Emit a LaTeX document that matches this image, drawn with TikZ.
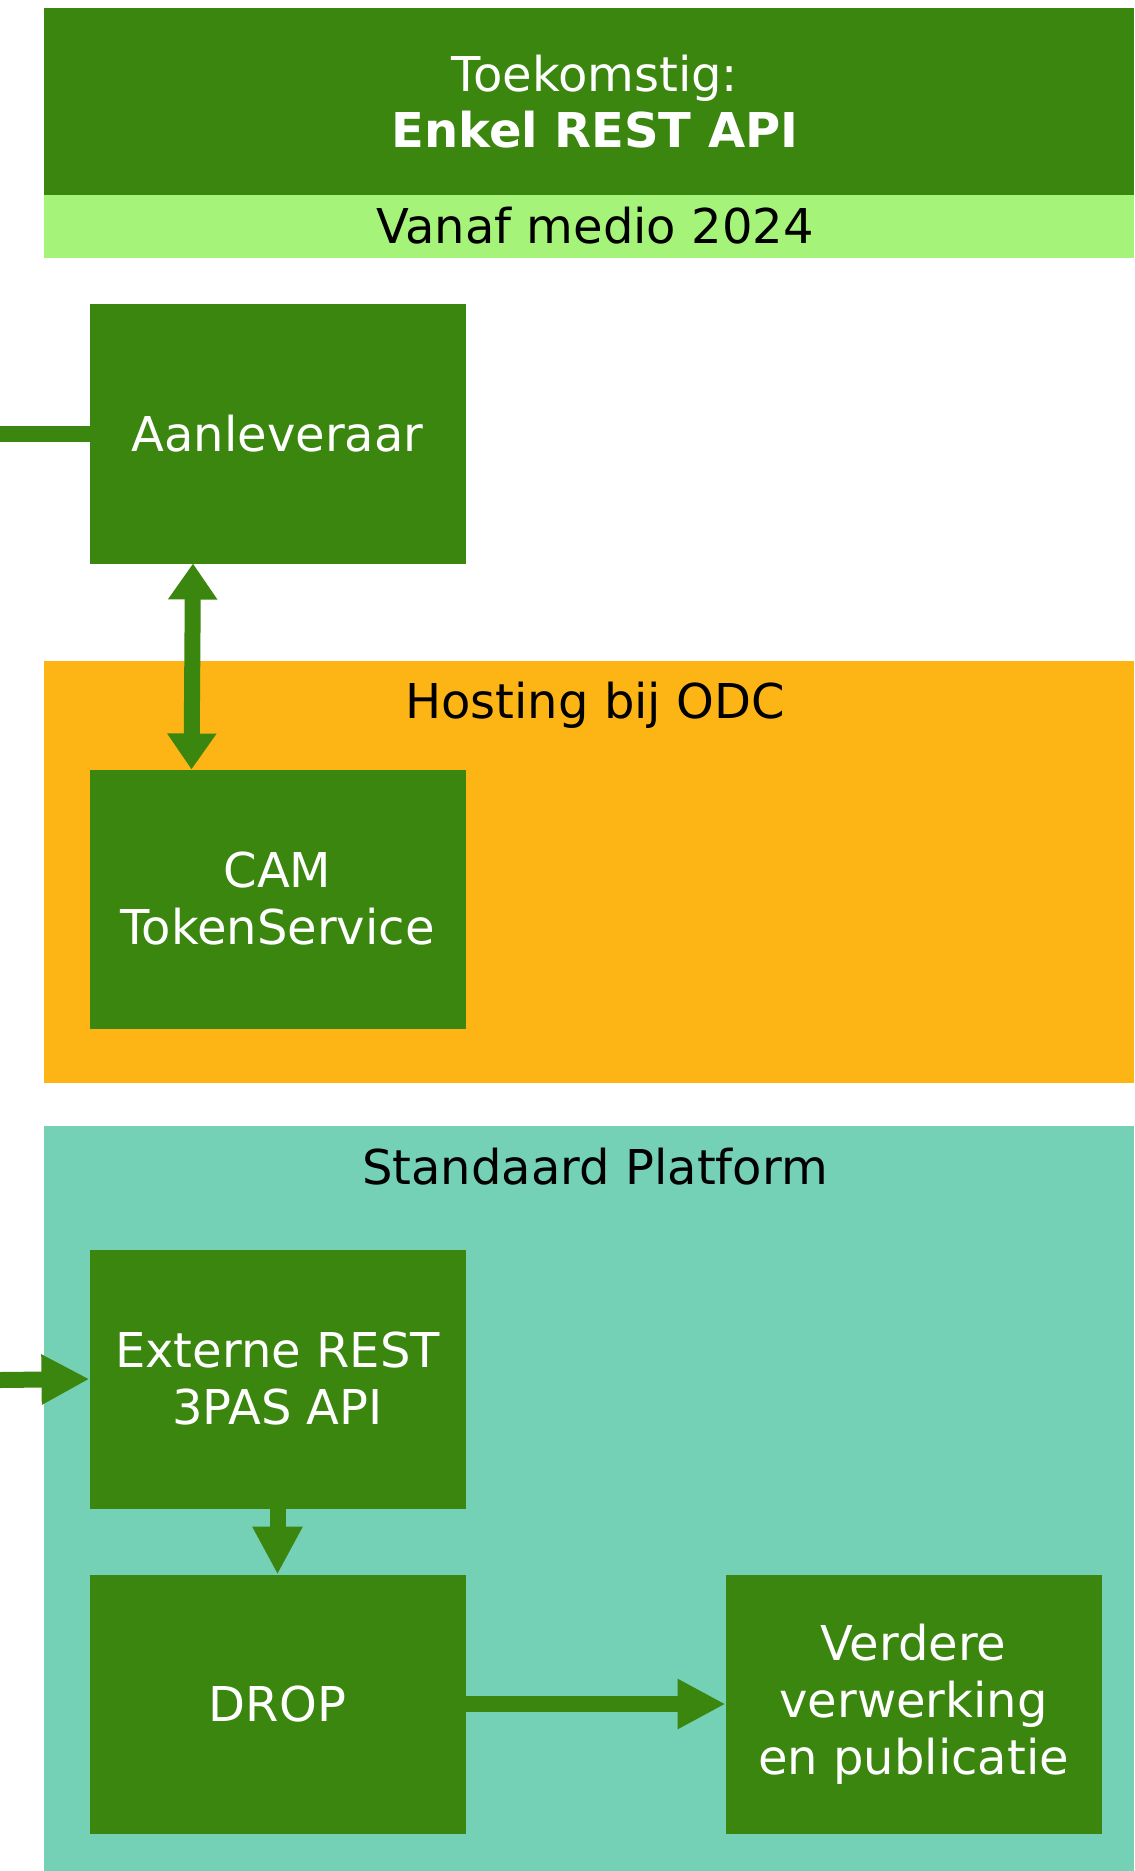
\documentclass[tikz,border=0pt]{standalone}
\usepackage{fontspec}
\setmainfont{DejaVu Sans}
\usepackage{tikz}
\usetikzlibrary{positioning, arrows.meta, calc}
\definecolor{boxgreen}{RGB}{58,134,14}
\definecolor{bandgreen}{RGB}{166,243,122}
\definecolor{odcorange}{RGB}{253,181,21}
\definecolor{platteal}{RGB}{117,209,182}
\tikzset{
    block/.style={fill=boxgreen, text=white, minimum width=188pt, minimum height=129.5pt,
      inner sep=0pt, outer sep=0pt, align=center, font=\fontsize{24}{28.5}\selectfont},
    title/.style={anchor=base, inner sep=0pt, font=\fontsize{24}{28.5}\selectfont},
    flow/.style={draw=boxgreen, line width=8pt, -{Triangle[width=23.5pt, length=24pt]}},
    dflow/.style={draw=boxgreen, line width=8pt,
      {Triangle[width=23.5pt, length=18pt]}-{Triangle[width=23.5pt, length=18pt]}},
}
\begin{document}
\begin{tikzpicture}[x=0.5pt, y=-0.5pt]
    \tikzset{node distance=103pt}
    \useasboundingbox (0,0) rectangle (1134,1871);

    % bands and regions
    \fill[boxgreen] (44,8) rectangle (1134,195);
    \fill[bandgreen] (44,195) rectangle (1134,258);
    \fill[odcorange] (44,661) rectangle (1134,1083);
    \fill[platteal] (44,1126) rectangle (1134,1871);

    \node[title, text=white] (toek) at (595,92) {Toekomstig:};
    \node[title, text=white, font=\fontsize{24}{28.5}\selectfont\bfseries] (enkel) at (595,148) {Enkel REST API};
    \node[title] (vanaf) at (595,244) {Vanaf medio 2024};
    \node[title] (odc) at (595,718) {Hosting bij ODC};
    \node[title] (sp) at (595,1184) {Standaard Platform};

    \node[block] (aan) at (277.5,434) {Aanleveraar};
    \node[block, below=of aan] (cam) {CAM\\TokenService};
    \node[block, below=110.5pt of cam] (ext) {Externe REST\\3PAS API};
    \node[block, below=33pt of ext] (drop) {DROP};
    \node[block, right=130pt of drop] (verder) {Verdere\\verwerking\\en publicatie};

    \coordinate (inaan) at (0,434);
    \coordinate (inext) at (0,1380);

    \draw[draw=boxgreen, line width=8pt] (inaan) -- (aan.west);
    \draw[dflow] ([xshift=-42.25pt]aan.south) -- ([xshift=-43pt]cam.north);
    \draw[flow] (inext) -- (ext.west);
    \draw[flow] (ext) -- (drop);
    \draw[flow] (drop) -- (verder);
\end{tikzpicture}
\end{document}
